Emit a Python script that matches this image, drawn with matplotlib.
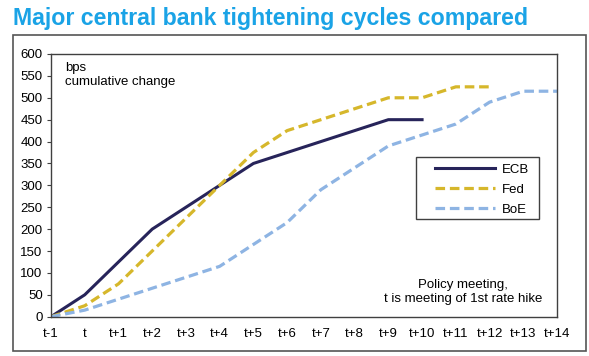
import matplotlib
matplotlib.use("Agg")
import matplotlib.pyplot as plt
from matplotlib.patches import Rectangle

plt.rcParams["font.family"] = ["Liberation Sans", "DejaVu Sans"]

# Rencontres de politique monétaire, t = première hausse
meetings = ["t-1", "t"] + [f"t+{i}" for i in range(1, 15)]

# Variation cumulée, en points de base
ecb = [0, 50, 125, 200, 250, 300, 350, 375, 400, 425, 450, 450]
fed = [0, 25, 75, 150, 225, 300, 375, 425, 450, 475, 500, 500, 525, 525]
boe = [0, 15, 40, 65, 90, 115, 165, 215, 290, 340, 390, 415, 440, 490, 515, 515]

yticks = list(range(0, 601, 50))

TITLE_BLUE = "#1AA3E6"
EDGE = "#404040"
FS = 9.5

fig = plt.figure(figsize=(5.89, 3.56), dpi=100)
ax = fig.add_axes([51 / 589, 1 - 316.7 / 356, 506 / 589, 262.7 / 356])

# cadre extérieur autour du graphique
fig.patches.append(Rectangle((12.7 / 589, 1 - 351 / 356), (586 - 12.7) / 589,
                             (351 - 34.5) / 356, transform=fig.transFigure,
                             fill=False, edgecolor="#555555", lw=1.2))

fig.text(13 / 589, 1 - 25 / 356, "Major central bank tightening cycles compared",
         color=TITLE_BLUE, fontsize=16.7, fontweight="bold", va="baseline")

ax.plot(range(len(ecb)), ecb, color="#27245A", lw=2.2, label="ECB",
        solid_joinstyle="round")
ax.plot(range(len(fed)), fed, color="#D6B72B", lw=2.3, label="Fed",
        dashes=(3, 1.5))
ax.plot(range(len(boe)), boe, color="#8EB4E3", lw=2.3, label="BoE",
        dashes=(3, 1.5))

ax.set_xlim(0, len(meetings) - 1)
ax.set_ylim(0, 600)
ax.set_xticks(range(len(meetings)))
ax.set_xticklabels(meetings)
ax.set_yticks(yticks)
ax.tick_params(axis="x", length=0, labelsize=FS, pad=8)
ax.tick_params(axis="y", length=3, width=0.8, color=EDGE, labelsize=FS, pad=3)
for side in ax.spines.values():
    side.set_edgecolor(EDGE)
    side.set_linewidth(1.0)

ax.text(0.027, 0.97, "bps\ncumulative change", transform=ax.transAxes,
        fontsize=FS, va="top", ha="left", linespacing=1.2)
ax.text(0.814, 0.045, "Policy meeting,\nt is meeting of 1st rate hike",
        transform=ax.transAxes, fontsize=FS, va="bottom", ha="center",
        linespacing=1.2)

# cadre de légende dessiné à part (marges gauche/droite plus larges qu'en haut/bas)
ax.add_patch(Rectangle((0.7213, 0.3719), 0.2431, 0.2360, transform=ax.transAxes,
                       facecolor="white", edgecolor=EDGE, lw=1.0, zorder=4))
leg = ax.legend(loc="upper left", bbox_to_anchor=(0.7589, 0.583),
                borderaxespad=0, borderpad=0, fontsize=FS, handlelength=4.55,
                frameon=False, labelspacing=0.6, handletextpad=0.55)
leg.set_zorder(5)

fig.savefig("out.png", dpi=100)
